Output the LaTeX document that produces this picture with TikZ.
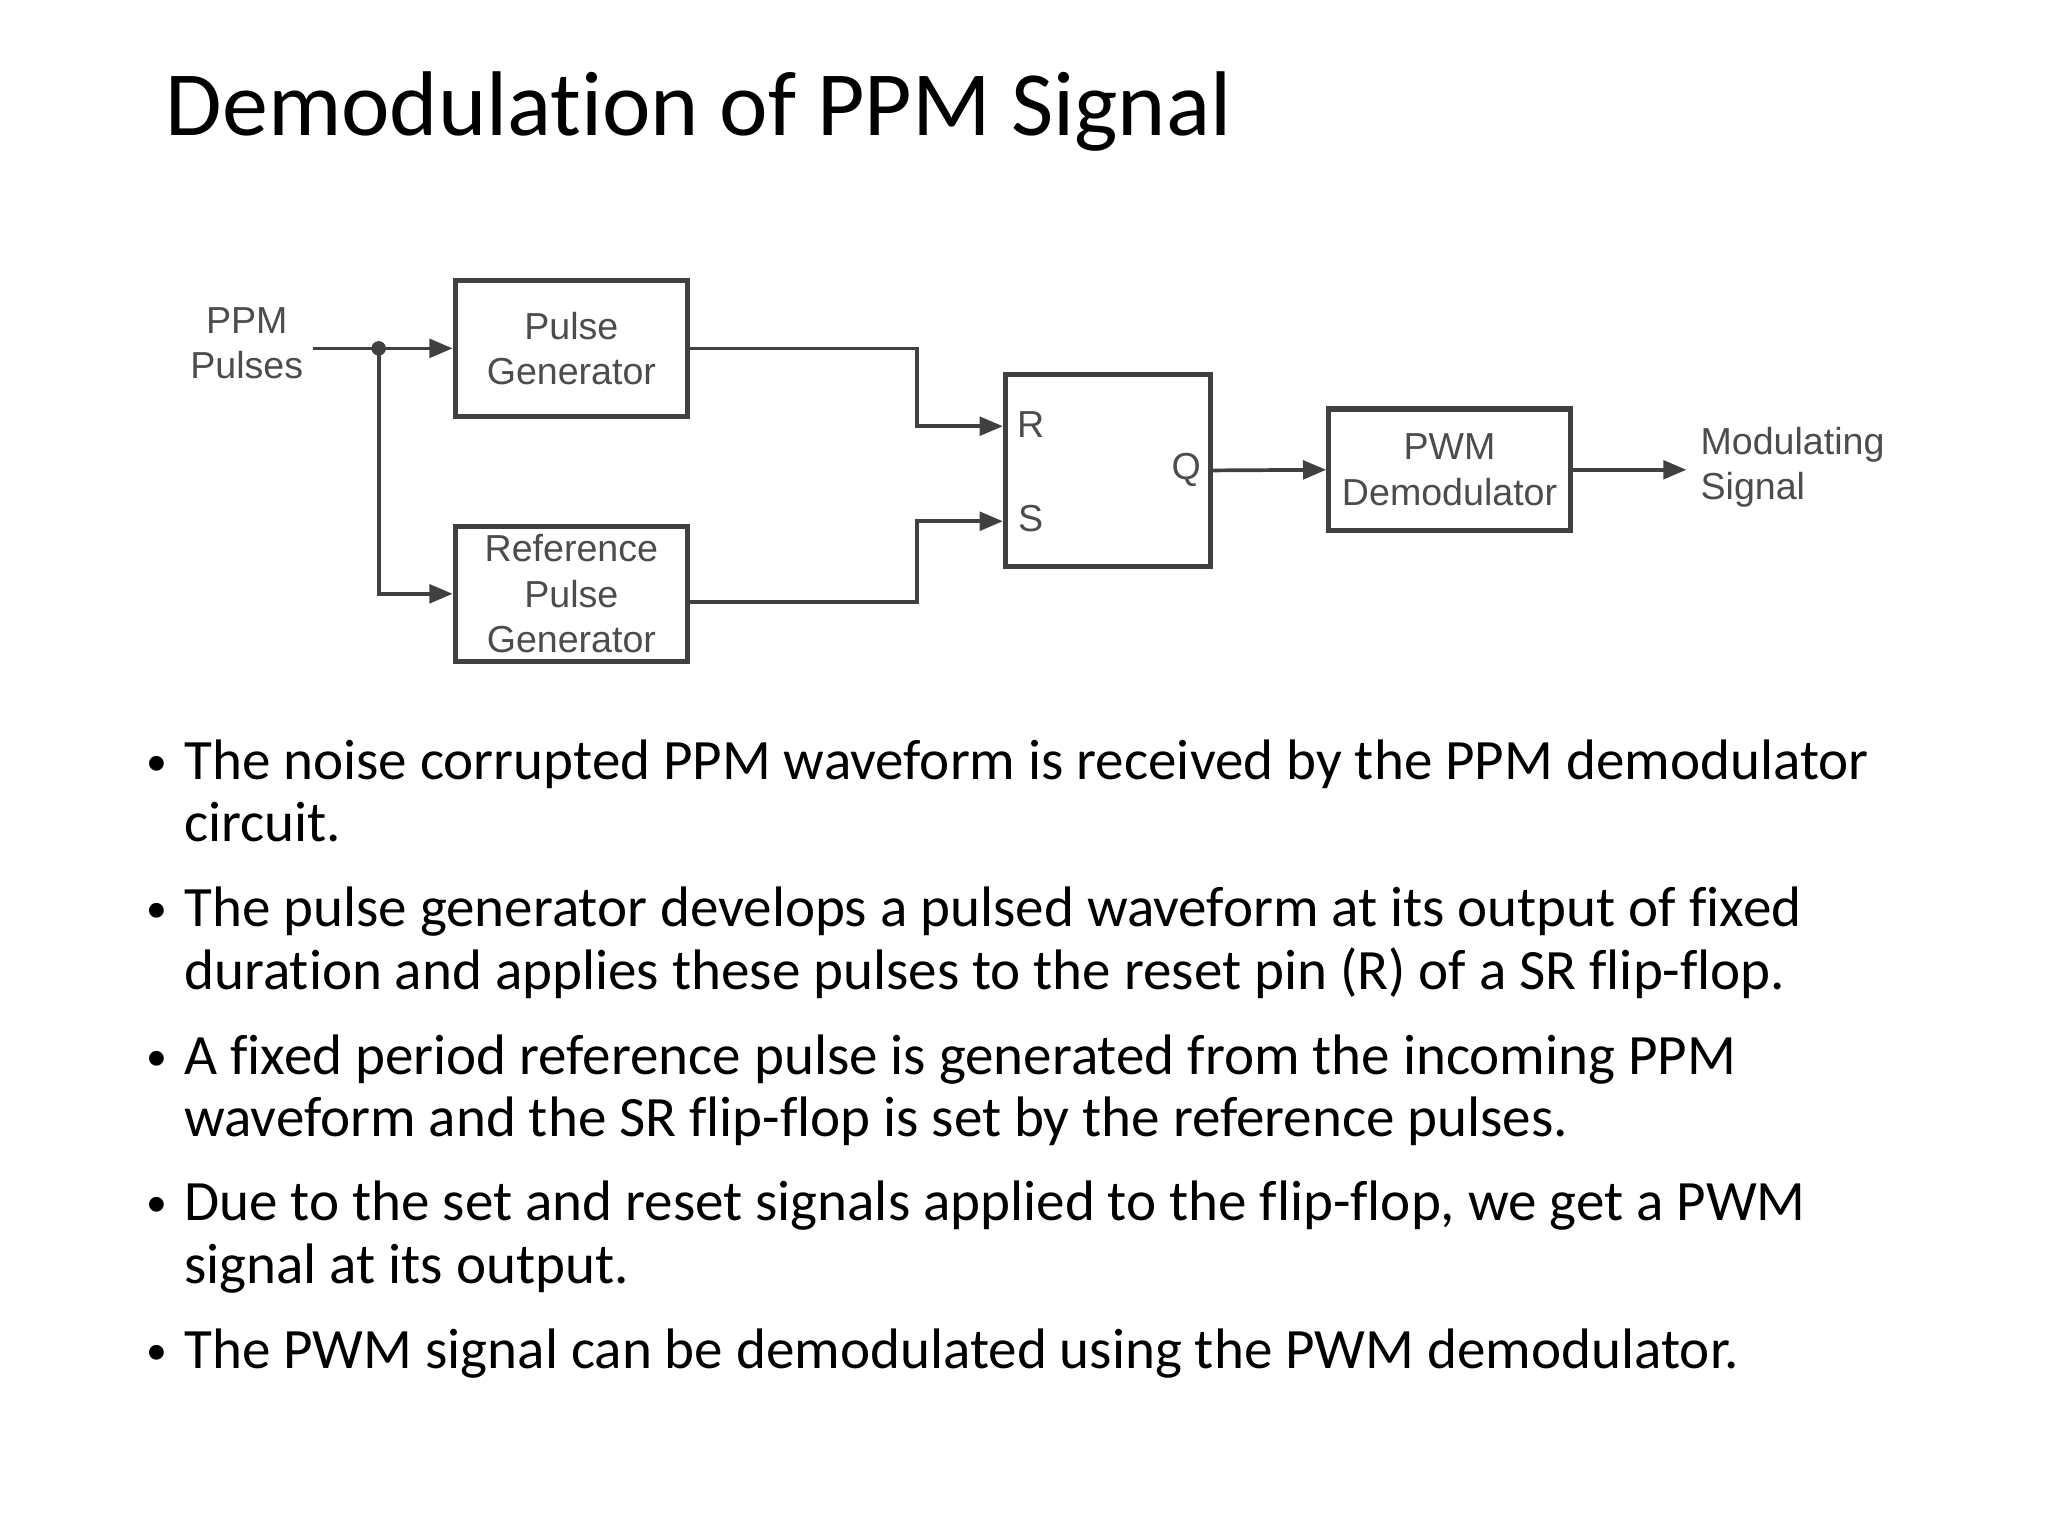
\documentclass[tikz,border=0pt]{standalone}
\usepackage{fontspec}
\setmainfont{Carlito}[Ligatures={NoCommon,NoDiscretionary,NoRare}]
\newfontfamily\arialf{Liberation Sans}
\usetikzlibrary{arrows.meta}
\begin{document}
\begin{tikzpicture}[x=0.01cm,y=-0.01cm,
  blk/.style={draw=black!75,line width=1.1pt,inner sep=0pt,font=\arialf\fontsize{8.1}{9.8}\selectfont,text=black!70,align=center},
  lab/.style={font=\arialf\fontsize{8.1}{9.8}\selectfont,text=black!70,align=center,inner sep=0pt},
  wire/.style={draw=black!75,line width=0.8pt},
  arr/.style={wire,-{Triangle[length=5pt,width=4pt]}},
  body/.style={anchor=base west,inner sep=0pt,font=\fontsize{12.3}{15}\selectfont}]
\useasboundingbox (0,0) rectangle (1552,1164);
\node[anchor=base west,inner sep=0pt,font=\fontsize{19.8}{24}\selectfont] (title) at (125,103) {Demodulation of PPM Signal};
% blocks
\node[blk,minimum width=1.76cm,minimum height=1.03cm] (pg) at (433,264) {Pulse\\Generator};
\node[blk,minimum width=1.76cm,minimum height=1.02cm] (rpg) at (433,450) {Reference\\Pulse\\Generator};
\node[blk,minimum width=1.55cm,minimum height=1.45cm] (sr) at (839.5,356.5) {};
\node[blk,minimum width=1.83cm,minimum height=0.92cm] (pwm) at (1098.5,356) {PWM\\Demodulator};
\node[lab] (in) at (187,260) {PPM\\Pulses};
\node[lab,align=left,anchor=west] (out) at (1288,354) {Modulating\\Signal};
\node[lab] (r) at (781,322) {R};
\node[lab] (s) at (781,393) {S};
\node[lab] (q) at (899,356) {Q};
\coordinate (dot) at (287,264);
\coordinate (rin) at (760,323);
\coordinate (sin) at (760,395);
% wires
\fill[black!75] (dot) circle (0.055cm);
\draw[arr] (237,264) -- (pg.west);
\draw[arr] (dot) |- (rpg.west);
\draw[arr] (pg.east) -- (695,264) |- (rin);
\draw[arr] (rpg.east |- 0,456) -- (695,456) |- (sin);
\draw[arr] (sr.east) -- (pwm.west);
\draw[arr] (pwm.east) -- (1278,356);
% text
\node[body,font=\fontsize{9}{10}\selectfont] (b1) at (110,588) {•};
\node[body] (l1) at (139,591) {The noise corrupted PPM waveform is received by the PPM demodulator};
\node[body] (l2) at (139,638) {circuit.};
\node[body,font=\fontsize{9}{10}\selectfont] (b2) at (110,699) {•};
\node[body] (l3) at (139,702) {The pulse generator develops a pulsed waveform at its output of fixed};
\node[body] (l4) at (139,750) {duration and applies these pulses to the reset pin (R) of a SR flip-flop.};
\node[body,font=\fontsize{9}{10}\selectfont] (b3) at (110,811) {•};
\node[body] (l5) at (139,814) {A fixed period reference pulse is generated from the incoming PPM};
\node[body] (l6) at (139,861) {waveform and the SR flip-flop is set by the reference pulses.};
\node[body,font=\fontsize{9}{10}\selectfont] (b4) at (110,922) {•};
\node[body] (l7) at (139,925) {Due to the set and reset signals applied to the flip-flop, we get a PWM};
\node[body] (l8) at (139,973) {signal at its output.};
\node[body,font=\fontsize{9}{10}\selectfont] (b5) at (110,1034) {•};
\node[body] (l9) at (139,1037) {The PWM signal can be demodulated using the PWM demodulator.};
\end{tikzpicture}
\end{document}
